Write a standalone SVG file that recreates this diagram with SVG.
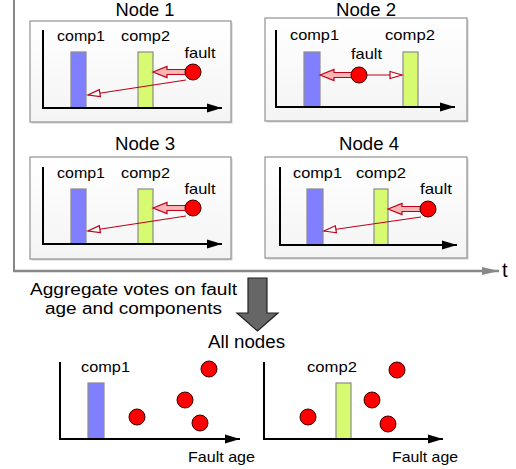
<svg xmlns="http://www.w3.org/2000/svg" width="516" height="469" viewBox="0 0 516 469">
  <defs>
    <style>
      .lbl { font-family: "Liberation Sans", Arial, sans-serif; fill: #000; }
      .title { font-size: 17.5px; }
      .small { font-size: 14.5px; }
      .big { font-size: 17.5px; }
      .note { font-size: 16px; }
      .panel { fill: url(#panelFill); stroke: #9a9a9a; stroke-width: 1.3; }
      .shadow { fill: #d0d0d0; }
      .axis { stroke: #000; stroke-width: 2; fill: none; marker-end: url(#axisHead); }
      .bar1 { fill: #7f7fff; stroke: #8a8a8a; stroke-width: 1.2; }
      .bar2 { fill: #d8fa70; stroke: #8a8a8a; stroke-width: 1.2; }
      .fault { fill: #ff0000; stroke: #3a0000; stroke-width: 1; }
      .thin { stroke: #c0001a; stroke-width: 1.2; fill: none; marker-end: url(#openHead); }
      .thick { fill: #f9b4b4; stroke: #c0001a; stroke-width: 1.2; }
    </style>
    <linearGradient id="panelFill" x1="0" y1="0" x2="0" y2="1">
      <stop offset="0" stop-color="#ffffff"/>
      <stop offset="1" stop-color="#f4f4f4"/>
    </linearGradient>
    <marker id="axisHead" markerUnits="userSpaceOnUse" markerWidth="16" markerHeight="10" refX="15" refY="5" orient="auto">
      <path d="M0,0.5 L15,5 L0,9.5 Z" fill="#000"/>
    </marker>
    <marker id="openHead" markerUnits="userSpaceOnUse" markerWidth="15" markerHeight="10" refX="13" refY="5" orient="auto">
      <path d="M1,1.5 L13,5 L1,8.5 Z" fill="#fff" stroke="#c0001a" stroke-width="1.2"/>
    </marker>
    <marker id="timeHead" markerUnits="userSpaceOnUse" markerWidth="18" markerHeight="10" refX="17" refY="5" orient="auto">
      <path d="M0,1 L17,5 L0,9 Z" fill="#888"/>
    </marker>
    <!-- block arrow pointing left, tip at origin -->
    <path id="blockArrow" d="M0,0 L14,-5.5 L14,-2.5 L33,-2.5 L33,2.5 L14,2.5 L14,5.5 Z"/>
  </defs>

  <!-- time frame -->
  <g id="timeline">
    <line x1="14" y1="0" x2="14" y2="271" stroke="#888" stroke-width="2"/>
    <line x1="13" y1="271" x2="499" y2="271" stroke="#888" stroke-width="2.5" marker-end="url(#timeHead)"/>
    <text class="lbl" x="502" y="277" font-size="20">t</text>
  </g>

  <!-- Node 1 -->
  <g id="node1">
    <text class="lbl title" x="145" y="16" text-anchor="middle" textLength="59" lengthAdjust="spacingAndGlyphs">Node 1</text>
    <rect class="shadow" x="31.5" y="22.5" width="201" height="101"/>
    <rect class="panel" x="30" y="21" width="201" height="101"/>
    <rect class="bar1" x="71" y="52" width="15" height="56"/>
    <rect class="bar2" x="138" y="52" width="15" height="56"/>
    <polyline class="axis" points="43,30 43,108 222,108"/>
    <text class="lbl small" x="81" y="41" text-anchor="middle" textLength="48" lengthAdjust="spacingAndGlyphs">comp1</text>
    <text class="lbl small" x="145.5" y="41" text-anchor="middle" textLength="49" lengthAdjust="spacingAndGlyphs">comp2</text>
    <text class="lbl small" x="200" y="58" text-anchor="middle" textLength="31" lengthAdjust="spacingAndGlyphs">fault</text>
  </g>

  <!-- Node 2 -->
  <g id="node2">
    <text class="lbl title" x="366" y="16" text-anchor="middle" textLength="60" lengthAdjust="spacingAndGlyphs">Node 2</text>
    <rect class="shadow" x="266.5" y="19.5" width="202" height="103"/>
    <rect class="panel" x="265" y="18" width="202" height="103"/>
    <rect class="bar1" x="304" y="52" width="16" height="55"/>
    <rect class="bar2" x="403" y="52" width="15" height="55"/>
    <polyline class="axis" points="276,30 276,107 455,107"/>
    <text class="lbl small" x="314.5" y="40" text-anchor="middle" textLength="49" lengthAdjust="spacingAndGlyphs">comp1</text>
    <text class="lbl small" x="410" y="40" text-anchor="middle" textLength="50" lengthAdjust="spacingAndGlyphs">comp2</text>
    <text class="lbl small" x="366.5" y="59" text-anchor="middle" textLength="31" lengthAdjust="spacingAndGlyphs">fault</text>
  </g>

  <!-- Node 3 -->
  <g id="node3">
    <text class="lbl title" x="145" y="150" text-anchor="middle" textLength="60" lengthAdjust="spacingAndGlyphs">Node 3</text>
    <rect class="shadow" x="31.5" y="158.5" width="201" height="102"/>
    <rect class="panel" x="30" y="157" width="201" height="102"/>
    <rect class="bar1" x="71" y="189" width="15" height="55"/>
    <rect class="bar2" x="138" y="189" width="15" height="55"/>
    <polyline class="axis" points="43,167 43,244 222,244"/>
    <text class="lbl small" x="81" y="178" text-anchor="middle" textLength="48" lengthAdjust="spacingAndGlyphs">comp1</text>
    <text class="lbl small" x="145.5" y="178" text-anchor="middle" textLength="49" lengthAdjust="spacingAndGlyphs">comp2</text>
    <text class="lbl small" x="200" y="194" text-anchor="middle" textLength="31" lengthAdjust="spacingAndGlyphs">fault</text>
  </g>

  <!-- Node 4 -->
  <g id="node4">
    <text class="lbl title" x="369" y="150" text-anchor="middle" textLength="60" lengthAdjust="spacingAndGlyphs">Node 4</text>
    <rect class="shadow" x="266.5" y="158.5" width="202" height="101"/>
    <rect class="panel" x="265" y="157" width="202" height="101"/>
    <rect class="bar1" x="307" y="189" width="16" height="56"/>
    <rect class="bar2" x="374" y="189" width="14" height="56"/>
    <polyline class="axis" points="280,167 280,245 457,245"/>
    <text class="lbl small" x="317.5" y="178" text-anchor="middle" textLength="49" lengthAdjust="spacingAndGlyphs">comp1</text>
    <text class="lbl small" x="381" y="178" text-anchor="middle" textLength="50" lengthAdjust="spacingAndGlyphs">comp2</text>
    <text class="lbl small" x="436" y="194" text-anchor="middle" textLength="32" lengthAdjust="spacingAndGlyphs">fault</text>
  </g>

  <!-- fault vote connectors -->
  <g id="connectors">
    <line class="thin" x1="186" y1="80" x2="88" y2="95"/>
    <use href="#blockArrow" class="thick" x="153" y="72"/>
    <line class="thin" x1="366" y1="75" x2="402" y2="75"/>
    <use href="#blockArrow" class="thick" x="320" y="75"/>
    <line class="thin" x1="186" y1="216" x2="88" y2="231"/>
    <use href="#blockArrow" class="thick" x="153" y="208"/>
    <line class="thin" x1="421" y1="217" x2="324" y2="231"/>
    <use href="#blockArrow" class="thick" x="388" y="209"/>
    <!-- aggregation arrow -->
    <path d="M248,278 L267,278 L267,313 L278,313 L257.5,331 L237,313 L248,313 Z" fill="#666" stroke="#222" stroke-width="1.2"/>
  </g>

  <!-- fault markers -->
  <g id="faults">
    <circle class="fault" cx="193" cy="72" r="8"/>
    <circle class="fault" cx="359" cy="75" r="8"/>
    <circle class="fault" cx="193" cy="208" r="8"/>
    <circle class="fault" cx="428" cy="209" r="8"/>
  </g>

  <g id="aggregate-label">
    <text class="lbl note" x="133.5" y="295" text-anchor="middle" textLength="207" lengthAdjust="spacingAndGlyphs">Aggregate votes on fault</text>
    <text class="lbl note" x="133.5" y="313.5" text-anchor="middle" textLength="177" lengthAdjust="spacingAndGlyphs">age and components</text>
    <text class="lbl big" x="246.5" y="348" text-anchor="middle" textLength="77" lengthAdjust="spacingAndGlyphs">All nodes</text>
  </g>

  <!-- combined chart: comp1 -->
  <g id="all-comp1">
    <rect class="bar1" x="88" y="383" width="16" height="56"/>
    <polyline class="axis" points="60,362 60,439 240,439"/>
    <text class="lbl small" x="105.5" y="372" text-anchor="middle" textLength="49" lengthAdjust="spacingAndGlyphs">comp1</text>
    <text class="lbl small" x="221.5" y="462" text-anchor="middle" textLength="67" lengthAdjust="spacingAndGlyphs">Fault age</text>
    <circle class="fault" cx="137" cy="417" r="8"/>
    <circle class="fault" cx="209" cy="369" r="8"/>
    <circle class="fault" cx="185" cy="400" r="8"/>
    <circle class="fault" cx="200" cy="423" r="8"/>
  </g>

  <!-- combined chart: comp2 -->
  <g id="all-comp2">
    <rect class="bar2" x="336" y="383" width="15" height="56"/>
    <polyline class="axis" points="264,362 264,439 443,439"/>
    <text class="lbl small" x="332" y="372" text-anchor="middle" textLength="50" lengthAdjust="spacingAndGlyphs">comp2</text>
    <text class="lbl small" x="425" y="462" text-anchor="middle" textLength="66" lengthAdjust="spacingAndGlyphs">Fault age</text>
    <circle class="fault" cx="308" cy="417" r="8"/>
    <circle class="fault" cx="397" cy="370" r="8"/>
    <circle class="fault" cx="372" cy="400" r="8"/>
    <circle class="fault" cx="388" cy="424" r="8"/>
  </g>
</svg>
